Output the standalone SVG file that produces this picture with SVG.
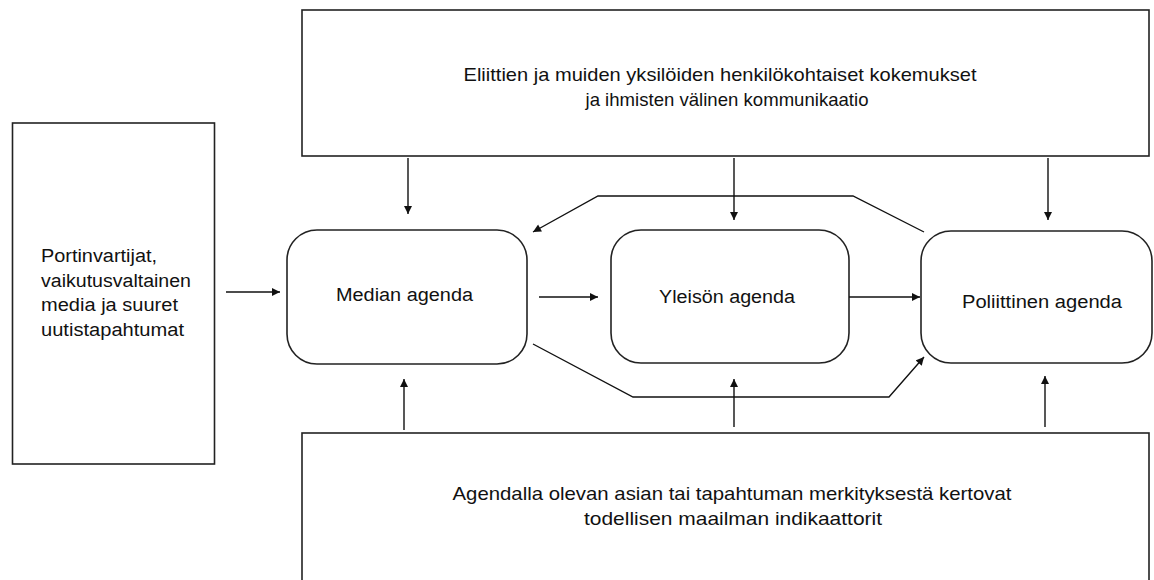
<svg xmlns="http://www.w3.org/2000/svg" width="1154" height="580" viewBox="0 0 1154 580">
<style>
.box{fill:#fff;stroke:#222;stroke-width:1.6}
.t{font-family:"Liberation Sans",Arial,sans-serif;font-size:18px;fill:#111}
.tl{font-size:19px}
.c{stroke:#111;stroke-width:1.4;fill:none}
</style>
<defs>
<marker id="ah" viewBox="0 0 10 10" refX="10" refY="5" markerWidth="9" markerHeight="8" markerUnits="userSpaceOnUse" orient="auto">
<path d="M0,0 L10,5 L0,10 z" fill="#111"/>
</marker>
</defs>
<rect width="1154" height="580" fill="#fff"/>
<g id="top-box">
<rect class="box" x="302" y="10" width="847" height="146"/>
<text class="t tl" x="720" y="81" text-anchor="middle" textLength="513" lengthAdjust="spacingAndGlyphs">Eliittien ja muiden yksilöiden henkilökohtaiset kokemukset</text>
<text class="t tl" x="727" y="106" text-anchor="middle" textLength="283" lengthAdjust="spacingAndGlyphs">ja ihmisten välinen kommunikaatio</text>
</g>
<g id="left-box">
<rect class="box" x="12.5" y="123" width="202" height="341"/>
<text class="t" x="41" y="262" textLength="116" lengthAdjust="spacingAndGlyphs">Portinvartijat,</text>
<text class="t" x="41" y="286.5" textLength="150" lengthAdjust="spacingAndGlyphs">vaikutusvaltainen</text>
<text class="t" x="41" y="311" textLength="137" lengthAdjust="spacingAndGlyphs">media ja suuret</text>
<text class="t" x="41" y="335.5" textLength="143" lengthAdjust="spacingAndGlyphs">uutistapahtumat</text>
</g>
<g id="median">
<rect class="box" x="287" y="230" width="240" height="134" rx="30" ry="30"/>
<text class="t" x="404.5" y="300.5" text-anchor="middle" textLength="137" lengthAdjust="spacingAndGlyphs">Median agenda</text>
</g>
<g id="yleison">
<rect class="box" x="611" y="230" width="238" height="133" rx="30" ry="30"/>
<text class="t" x="727" y="303" text-anchor="middle" textLength="136" lengthAdjust="spacingAndGlyphs">Yleisön agenda</text>
</g>
<g id="poliittinen">
<rect class="box" x="921" y="231" width="231" height="132" rx="30" ry="30"/>
<text class="t" x="1042" y="308" text-anchor="middle" textLength="160" lengthAdjust="spacingAndGlyphs">Poliittinen agenda</text>
</g>
<g id="bottom-box">
<rect class="box" x="302" y="433" width="847" height="170"/>
<text class="t tl" x="732" y="500" text-anchor="middle" textLength="559" lengthAdjust="spacingAndGlyphs">Agendalla olevan asian tai tapahtuman merkityksestä kertovat</text>
<text class="t tl" x="733" y="525" text-anchor="middle" textLength="298" lengthAdjust="spacingAndGlyphs">todellisen maailman indikaattorit</text>
</g>
<g id="connectors">
<line class="c" x1="226" y1="292" x2="280" y2="292" marker-end="url(#ah)"/>
<line class="c" x1="539" y1="297" x2="598" y2="297" marker-end="url(#ah)"/>
<line class="c" x1="849" y1="297" x2="920" y2="297" marker-end="url(#ah)"/>
<line class="c" x1="408" y1="158" x2="408" y2="214" marker-end="url(#ah)"/>
<line class="c" x1="734" y1="158" x2="734" y2="220" marker-end="url(#ah)"/>
<line class="c" x1="1048" y1="158" x2="1048" y2="220" marker-end="url(#ah)"/>
<line class="c" x1="404" y1="430" x2="404" y2="379" marker-end="url(#ah)"/>
<line class="c" x1="734" y1="427" x2="734" y2="379" marker-end="url(#ah)"/>
<line class="c" x1="1045" y1="427" x2="1045" y2="376" marker-end="url(#ah)"/>
<polyline class="c" points="924,232 853,196 598,196 533,232" marker-end="url(#ah)"/>
<polyline class="c" points="533,344 633,397 889,397 924,357" marker-end="url(#ah)"/>
</g>
</svg>
